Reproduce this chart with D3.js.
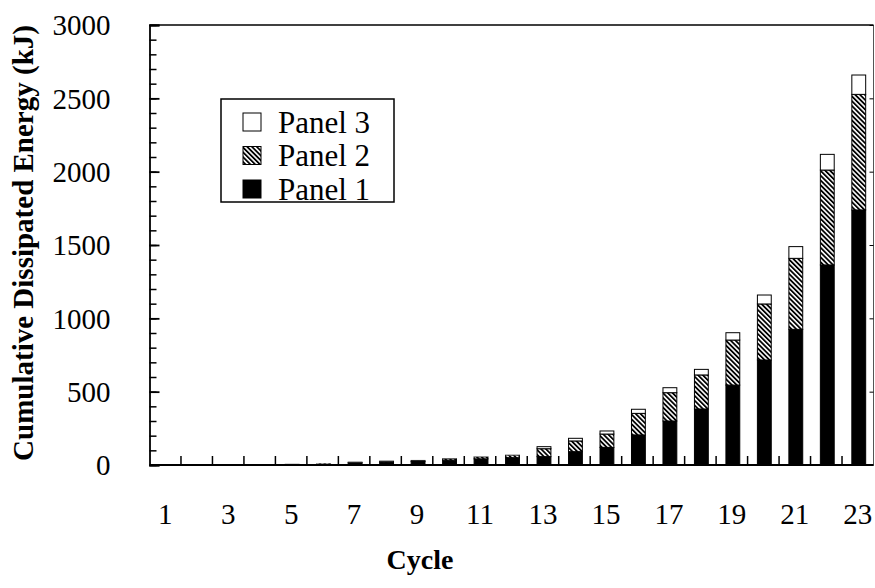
<!DOCTYPE html>
<html>
<head>
<meta charset="utf-8">
<script src="https://cdn.jsdelivr.net/npm/d3@7"></script>
<style>
body { margin: 0; background: #fff; }
svg { display: block; }
</style>
</head>
<body>
<script>
var width = 875;
var height = 588;
var margin = { top: 25, right: 1.5, bottom: 123, left: 149.5 };
var w = width - margin.left - margin.right;
var h = height - margin.top - margin.bottom;
var serif = "'Liberation Serif', 'Times New Roman', serif";

// cumulative dissipated energy per cycle (kJ)
var cycles = d3.range(1, 24);
var panel1 = [0.5, 1, 1.5, 3, 4.5, 7, 15, 20, 24, 33, 42, 50, 57, 91, 120, 205, 300, 382, 545, 716, 925, 1364, 1739];
var panel2 = [0, 0, 0.5, 1, 1.5, 2.5, 4, 6, 7, 10, 13, 17, 54, 73, 91, 147, 193, 232, 307, 382, 484, 647, 788];
var panel3 = [0, 0, 0, 0, 0, 0.5, 1, 1, 1, 2, 2, 3, 14, 18, 21, 28, 34, 38, 50, 61, 80, 107, 132];
var xLabels = [1, 3, 5, 7, 9, 11, 13, 15, 17, 19, 21, 23];
var yMajor = [0, 500, 1000, 1500, 2000, 2500, 3000];
var series = ["Panel 1", "Panel 2", "Panel 3"];

var table = cycles.map(function (c, i) {
    return { cycle: c, "Panel 1": panel1[i], "Panel 2": panel2[i], "Panel 3": panel3[i] };
});

var svg = d3.select("body").append("svg")
    .attr("width", width)
    .attr("height", height);

var defs = svg.append("defs");
var pat = defs.append("pattern")
    .attr("id", "hatch")
    .attr("patternUnits", "userSpaceOnUse")
    .attr("width", 3.4)
    .attr("height", 3.4)
    .attr("patternTransform", "rotate(-45)");
pat.append("rect").attr("width", 3.4).attr("height", 3.4).attr("fill", "#fff");
pat.append("line")
    .attr("x1", 0.9).attr("y1", 0).attr("x2", 0.9).attr("y2", 3.4)
    .attr("stroke", "#000").attr("stroke-width", 1.8);

var fills = { "Panel 1": "#000", "Panel 2": "url(#hatch)", "Panel 3": "#fff" };

var chart = svg.append("g")
    .attr("transform", "translate(" + margin.left + "," + margin.top + ")");

var x = d3.scaleBand()
    .domain(cycles)
    .range([0, w])
    .padding(0);

var y = d3.scaleLinear()
    .domain([0, 3000])
    .range([h, 0]);

var barW = x.bandwidth() * 0.44;

var stack = d3.stack().keys(series);
var layers = stack(table);

chart.selectAll(".layer")
    .data(layers)
    .enter().append("g")
    .attr("class", "layer")
    .style("fill", function (d) { return fills[d.key]; })
    .selectAll("rect")
    .data(function (d) { return d; })
    .enter().append("rect")
    .attr("x", function (d) { return x(d.data.cycle) + (x.bandwidth() - barW) / 2 + 1; })
    .attr("y", function (d) { return y(d[1]); })
    .attr("width", barW)
    .attr("height", function (d) { return Math.max(0, y(d[0]) - y(d[1])); })
    .style("stroke", "#000")
    .style("stroke-width", function (d) { return (y(d[0]) - y(d[1])) > 0.5 ? 1 : 0; });

// frame
chart.append("line").attr("x1", 0).attr("x2", w).attr("y1", 0).attr("y2", 0)
    .style("stroke", "#000").style("stroke-width", 1.5);
chart.append("line").attr("x1", w).attr("x2", w).attr("y1", 0).attr("y2", h)
    .style("stroke", "#555").style("stroke-width", 1);

// left axis: minor and major inward ticks
var yMinor = chart.append("g")
    .call(d3.axisLeft(y).tickValues(d3.range(0, 3001, 100)).tickSize(-7).tickFormat(""));
yMinor.select(".domain").remove();
yMinor.selectAll("line").style("stroke-width", 1.5);

var yAxis = chart.append("g")
    .call(d3.axisLeft(y).tickValues(yMajor).tickSize(-10).tickPadding(39).tickFormat(d3.format("d")));
yAxis.attr("font-family", serif).attr("font-size", 29);
yAxis.select(".domain").style("stroke-width", 1.8);
yAxis.selectAll("line").style("stroke-width", 1.8);
yAxis.selectAll("text")
    .style("font-family", serif)
    .style("font-size", "29px")
    .attr("dy", "0.34em");

// right axis major ticks
var yRight = chart.append("g")
    .attr("transform", "translate(" + w + ",0)")
    .call(d3.axisRight(y).tickValues(yMajor).tickSize(-4).tickFormat(""));
yRight.select(".domain").remove();

// x axis: ticks on the band boundaries, labels on odd cycles
var boundaries = cycles.slice(1);
chart.append("g").selectAll("line")
    .data(boundaries)
    .enter().append("line")
    .attr("x1", function (d) { return x(d); })
    .attr("x2", function (d) { return x(d); })
    .attr("y1", h)
    .attr("y2", h - 9)
    .style("stroke", "#000")
    .style("stroke-width", 1.5);

var xAxis = chart.append("g")
    .attr("transform", "translate(0," + h + ")")
    .call(d3.axisBottom(x).tickValues(xLabels).tickSize(0).tickPadding(38));
xAxis.attr("font-family", serif).attr("font-size", 29);
xAxis.select(".domain").attr("d", "M0,0H" + w).style("stroke-width", 1.8);
xAxis.selectAll("text")
    .style("font-family", serif)
    .style("font-size", "29px");

// axis titles
svg.append("text")
    .attr("transform", "translate(33," + (margin.top + h / 2 - 2) + ") rotate(-90)")
    .style("text-anchor", "middle")
    .style("font-family", serif)
    .style("font-weight", "bold")
    .style("font-size", "29px")
    .text("Cumulative Dissipated Energy (kJ)");

svg.append("text")
    .attr("x", 420)
    .attr("y", 569)
    .style("text-anchor", "middle")
    .style("font-family", serif)
    .style("font-weight", "bold")
    .style("font-size", "28px")
    .text("Cycle");

// legend
var legend = svg.append("g").attr("transform", "translate(221,99)");
legend.append("rect")
    .attr("width", 173)
    .attr("height", 103)
    .style("fill", "#fff")
    .style("stroke", "#000")
    .style("stroke-width", 1.5);

var order = series.slice().reverse();
var item = legend.selectAll(".item")
    .data(order)
    .enter().append("g")
    .attr("class", "item")
    .attr("transform", function (d, i) { return "translate(0," + (23 + i * 33.5) + ")"; });

item.append("rect")
    .attr("x", 22)
    .attr("y", -9)
    .attr("width", 18)
    .attr("height", 18)
    .style("fill", function (d) { return fills[d]; })
    .style("stroke", "#000")
    .style("stroke-width", 1);

item.append("text")
    .attr("x", 57)
    .attr("y", 10.5)
    .style("font-family", serif)
    .style("font-size", "31px")
    .text(function (d) { return d; });
</script>
</body>
</html>
